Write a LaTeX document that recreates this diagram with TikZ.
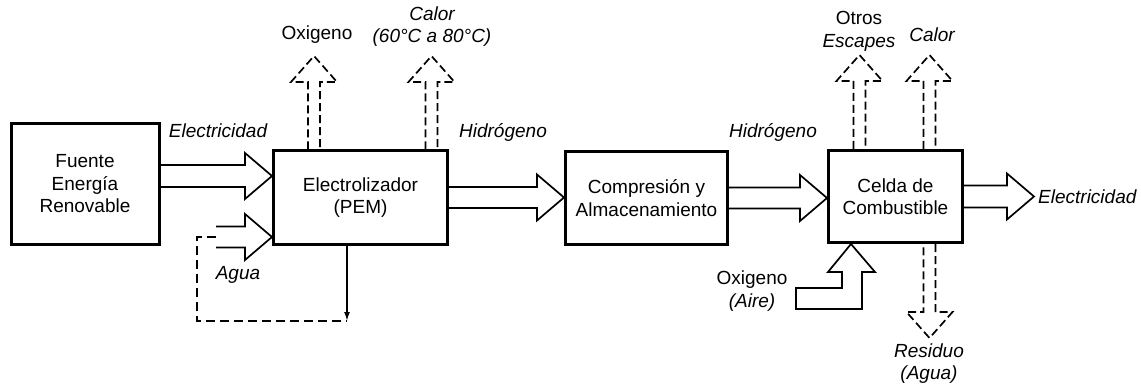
\documentclass[tikz,border=0pt]{standalone}
\usepackage{fontspec}
\setmainfont{Liberation Sans}
\usetikzlibrary{arrows.meta,calc,positioning}

\newcommand\bashaft{11pt}
\newcommand\bahead{23pt}
\newcommand\balen{27pt}
\tikzset{
  txt/.style={font=\fontsize{19}{22.5}\selectfont},
  txtit/.style={font=\fontsize{19}{22.5}\selectfont\itshape},
  bloque/.style={txt, draw, line width=3pt, inner sep=0pt, align=center},
  etiq/.style={txt, align=center, inner sep=1pt},
  etiqit/.style={txtit, align=center, inner sep=1pt},
  ba shaft/.code={\def\bashaft{#1}},
  ba len/.code={\def\balen{#1}},
  flecha/.style={draw, line width=1.7pt, line join=miter},
  barrow/.style={flecha, to path={
    ($(\tikztotarget)!\balen!(\tikztostart)$) coordinate (bh)
    ($(\tikztostart)!\bashaft!90:(\tikztotarget)$) -- ($(bh)!\bashaft!90:(\tikztotarget)$)
    -- ($(bh)!\bahead!90:(\tikztotarget)$) -- (\tikztotarget)
    -- ($(bh)!\bahead!-90:(\tikztotarget)$) -- ($(bh)!\bashaft!-90:(\tikztotarget)$)
    -- ($(\tikztostart)!\bashaft!-90:(\tikztotarget)$)}},
  escape/.style={barrow, ba shaft=6pt, ba len=26pt, dash pattern=on 8pt off 4pt},
  lazo/.style={line width=1.7pt, dash pattern=on 9pt off 5pt},
}

\begin{document}
\begin{tikzpicture}[x=1pt,y=-1pt]
\useasboundingbox (0,0) rectangle (1141,385);
%% bloques
\node[bloque, minimum width=148pt, minimum height=121pt] (fuente) at (85,184) {Fuente\\Energía\\Renovable};
\node[bloque, minimum width=174pt, minimum height=93pt] (electro) at (360.5,197.5) {Electrolizador\\(PEM)};
\node[bloque, minimum width=162pt, minimum height=93pt] (compres) at (646.5,198) {Compresión y\\Almacenamiento};
\node[bloque, minimum width=134pt, minimum height=92pt] (celda) at (895.5,196.5) {Celda de\\Combustible};
%% puntos
\coordinate (elecini) at ($(fuente.east)+(0,-8)$);
\coordinate (elecfin) at ($(electro.west)+(0,-21.5)$);
\coordinate (h1fin) at (electro.east -| compres.west);
\coordinate (h2fin) at (compres.east -| celda.west);
\coordinate (salida) at ($(celda.east)+(70,0)$);
\coordinate (aguaorig) at (216,237);
\coordinate (aguafin) at (aguaorig -| electro.west);
\coordinate (lazo) at (197,321);
\coordinate (retorno) at (347,321);
\coordinate (oxup) at (314,56);
\coordinate (calup) at (431.5,56);
\coordinate (otrup) at (859.5,55);
\coordinate (calup2) at (929.5,55);
\coordinate (resdown) at (929.5,338);
\coordinate (oxtip) at ($(celda.south west)+(24,0)$);
%% flechas
\draw[barrow] (elecini) to (elecfin);
\draw[barrow, ba shaft=10.5pt] (electro.east) to (h1fin);
\draw[barrow, ba shaft=10.5pt] (compres.east) to (h2fin);
\draw[barrow] (celda.east) to (salida);
\draw[barrow, ba shaft=10.5pt] (aguaorig) to (aguafin);
\draw[lazo] (aguaorig) -| (lazo) -- (retorno);
\draw[line width=1.7pt, -{Latex[length=9pt,width=6pt]}] (retorno |- electro.south) -- (retorno);
%
\foreach \p/\b in {oxup/electro,calup/electro,otrup/celda,calup2/celda}
\draw[escape] (\p |- \b.north) to (\p);
\draw[escape] (resdown |- celda.south) to (resdown);
%
\draw[flecha] (oxtip) -- ++(24,28) -- ++(-13,0) -- ++(0,37) -- ++(-66,0) -- ++(0,-21)
  -- ++(46,0) -- ++(0,-16) -- ++(-14,0) -- cycle;
%% etiquetas
\node[etiqit] (lbelec) at (218,131) {Electricidad};
\node[etiqit] (lbhid1) at (503,132) {Hidrógeno};
\node[etiqit] (lbhid2) at (773,132) {Hidrógeno};
\node[etiqit, anchor=west] (lbsalida) at ($(salida)+(3,0)$) {Electricidad};
\node[etiqit] (lbagua) at (238,275) {Agua};
\node[etiq] (lboxi) at (317,35) {Oxigeno};
\node[etiqit] (lbcalor) at (432,26.5) {Calor\\(60°C a 80°C)};
\node[etiq] (lbotros) at (859,31.5) {Otros\\\textit{Escapes}};
\node[etiqit] (lbcalor2) at (932,35) {Calor};
\node[etiq] (lboxaire) at (752,291) {Oxigeno\\\textit{(Aire)}};
\node[etiqit] (lbresid) at (929,363.5) {Residuo\\(Agua)};
\end{tikzpicture}
\end{document}
